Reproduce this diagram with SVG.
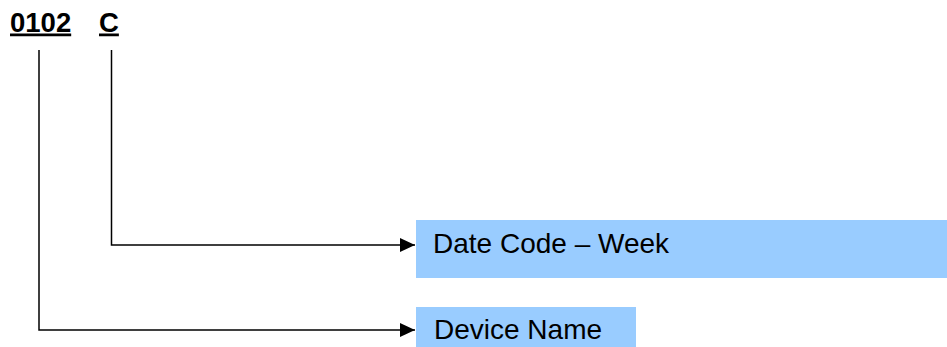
<svg xmlns="http://www.w3.org/2000/svg" width="947" height="347" viewBox="0 0 947 347">
<defs>
<style>
.code{font-family:"Liberation Sans",Arial,sans-serif;font-weight:bold;font-size:27.5px;fill:#000;text-decoration:underline}
.lbl{font-family:"Liberation Sans",Arial,sans-serif;font-size:28px;fill:#000}
.box{fill:#99ccff}
.wire{fill:none;stroke:#000;stroke-width:1.5}
</style>
<marker id="arr" markerWidth="16" markerHeight="16" refX="15" refY="7" orient="auto" markerUnits="userSpaceOnUse">
<path d="M0,0 L15,7 L0,14 Z" fill="#000"/>
</marker>
</defs>
<rect width="947" height="347" fill="#fff"/>
<g id="code">
<text class="code" x="10" y="31.5">0102</text>
<text class="code" x="99" y="31.5">C</text>
</g>
<g id="node-date">
<rect class="box" x="416" y="220" width="531" height="58"/>
<text class="lbl" x="433" y="253">Date Code – Week</text>
</g>
<g id="node-device">
<rect class="box" x="416" y="307" width="220" height="40"/>
<text class="lbl" x="434" y="339">Device Name</text>
</g>
<g id="connectors">
<path class="wire" d="M111.5,50 V245 H415" marker-end="url(#arr)"/>
<path class="wire" d="M39,50 V330 H415" marker-end="url(#arr)"/>
</g>
</svg>
